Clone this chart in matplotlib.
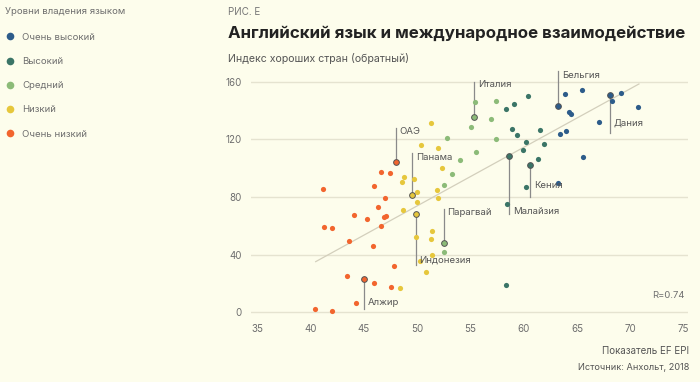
import matplotlib
matplotlib.use("Agg")
import matplotlib.pyplot as plt
from matplotlib.lines import Line2D

plt.rcParams['font.family'] = ['Inter', 'DejaVu Sans']

# ---- data: EF EPI score (x) vs Good Country Index, inverted (y) ----
levels = ["Очень высокий", "Высокий", "Средний", "Низкий", "Очень низкий"]
level_colors = ["#2d5c8a", "#3b7567", "#8cbb78", "#e6c73c", "#f2652e"]

vhigh_x = [63.2, 63.9, 65.5, 68.1, 68.3, 69.1, 70.7, 67.1, 64.2, 64.4, 63.4, 64.0, 65.6, 63.2]
vhigh_y = [143.2, 151.5, 154.1, 150.6, 146.7, 152.0, 142.3, 131.7, 138.9, 137.7, 123.6, 125.7, 107.9, 89.8]

high_x = [60.4, 59.1, 58.3, 58.9, 59.4, 61.5, 60.2, 61.9, 59.9, 58.6, 61.3, 60.6, 60.2, 58.4, 58.3]
high_y = [149.7, 144.2, 141.2, 127.1, 122.7, 126.2, 118.1, 116.5, 112.5, 108.4, 106.5, 101.9, 86.9, 75.1, 19.1]

mid_x = [55.3, 55.4, 57.4, 56.9, 55.1, 57.4, 52.8, 55.5, 54.0, 53.3, 52.5, 52.5, 52.5]
mid_y = [135.6, 145.8, 146.7, 134.2, 128.7, 119.9, 120.8, 110.9, 105.8, 95.7, 88.5, 47.8, 42.0]

low_x = [51.3, 50.4, 52.0, 52.3, 48.8, 48.6, 49.7, 50.0, 51.9, 52.0, 50.0, 48.7, 49.5, 49.9,
         49.9, 51.4, 51.3, 51.4, 50.3, 50.8, 48.4]
low_y = [131.0, 116.0, 113.7, 100.2, 94.0, 90.3, 92.4, 83.6, 84.6, 79.5, 76.5, 71.1, 81.5, 68.4,
         52.2, 56.4, 51.0, 39.7, 35.3, 28.1, 16.6]

vlow_x = [48.0, 46.6, 47.5, 46.0, 41.2, 47.0, 46.3, 44.1, 45.3, 46.9, 47.1, 46.6, 41.3, 42.0,
          43.6, 45.9, 47.8, 43.4, 45.0, 46.0, 47.6, 44.3, 40.4, 42.0]
vlow_y = [104.0, 97.3, 96.6, 87.8, 85.3, 79.0, 72.8, 67.2, 64.7, 66.1, 66.8, 60.0, 59.3, 58.7,
          49.2, 46.0, 32.3, 25.2, 23.3, 20.5, 17.8, 6.7, 2.1, 0.9]

groups_x = [vhigh_x, high_x, mid_x, low_x, vlow_x]
groups_y = [vhigh_y, high_y, mid_y, low_y, vlow_y]

# highlighted countries: (name, group index, point index)
highlights = [("ОАЭ", 4, 0), ("Панама", 3, 12), ("Италия", 2, 0), ("Бельгия", 0, 0),
              ("Дания", 0, 3), ("Кения", 1, 11), ("Малайзия", 1, 9), ("Парагвай", 2, 11),
              ("Индонезия", 3, 13), ("Алжир", 4, 18)]

# trend line endpoints
trend_x = [40.5, 70.8]
trend_y = [35.1, 158.3]

xticks = [35, 40, 45, 50, 55, 60, 65, 70, 75]
yticks = [0, 40, 80, 120, 160]

# ---- styling ----
bg = "#fdfdec"
grey = "#6e6e6e"

fig = plt.figure(figsize=(7, 3.82), dpi=100, facecolor=bg)
ax = fig.add_axes([0.3586, 0.1712, 0.6243, 0.6267], facecolor=bg)
ax.set_xlim(34.44, 75.4)
ax.set_ylim(-3, 163)

for yt in yticks:
    ax.axhline(yt, color="#e5e3d0", lw=1.0, zorder=0)

ax.plot(trend_x, trend_y, color="#d3cfbc", lw=0.9, zorder=1)

for gx, gy, col, lab in zip(groups_x, groups_y, level_colors, levels):
    ax.scatter(gx, gy, s=14, color=col, linewidths=0, zorder=3, label=lab)

# label lines: (end y of the line, label x offset, label y)
label_layout = {
    "ОАЭ": (127.6, 0.35, 125.2),
    "Панама": (110.2, 0.37, 107.0),
    "Италия": (159.9, 0.38, 157.6),
    "Бельгия": (167.5, 0.38, 164.5),
    "Дания": (124.5, 0.34, 131.0),
    "Кения": (80.1, 0.37, 87.6),
    "Малайзия": (68.1, 0.38, 69.7),
    "Парагвай": (71.4, 0.31, 69.0),
    "Индонезия": (32.8, 0.30, 36.3),
    "Алжир": (2.1, 0.40, 6.7),
}

for name, gi, pi in highlights:
    px = groups_x[gi][pi]
    py = groups_y[gi][pi]
    yend, dx, ly = label_layout[name]
    ax.plot([px, px], [py, yend], color="#8a8a8a", lw=0.9, zorder=2, clip_on=False)
    ax.scatter([px], [py], s=17, color=level_colors[gi], edgecolors="#555555",
               linewidths=0.7, zorder=4)
    ax.text(px + dx, ly, name, fontsize=6.9, color="#555555", va="center", ha="left",
            zorder=5)

ax.set_xticks(xticks)
ax.set_yticks(yticks)
ax.tick_params(length=0, labelsize=7, colors=grey)
ax.tick_params(axis="x", pad=5)
ax.tick_params(axis="y", pad=6.5)
for s in ax.spines.values():
    s.set_visible(False)

ax.text(0.993, 0.087, "R=0.74", transform=ax.transAxes, fontsize=6.8, color=grey,
        ha="right", va="center")

# ---- titles and notes ----
fig.text(228 / 700, 1 - 12 / 382, "РИС. Е", fontsize=7.1, color="#777777", va="center")
fig.text(228 / 700, 1 - 37.5 / 382, "Английский язык и международное взаимодействие",
         fontsize=12.2, fontweight="bold", color="#222222", va="baseline")
fig.text(228 / 700, 1 - 58 / 382, "Индекс хороших стран (обратный)", fontsize=7.6,
         color="#555555", va="center")
fig.text(689 / 700, 1 - 351 / 382, "Показатель EF EPI", fontsize=7.0, color="#555555",
         ha="right", va="center")
fig.text(689 / 700, 1 - 367.5 / 382, "Источник: Анхольт, 2018", fontsize=6.6,
         color="#555555", ha="right", va="center")

# ---- legend ----
fig.text(5 / 700, 1 - 12 / 382, "Уровни владения языком", fontsize=6.9, color=grey,
         va="center")
handles = [Line2D([], [], marker="o", ls="", markersize=5.5, markerfacecolor=c,
                  markeredgewidth=0) for c in level_colors]
leg = fig.legend(handles, levels, loc="upper left",
                 bbox_to_anchor=(6.6 / 700, 1 - 32.7 / 382),
                 bbox_transform=fig.transFigure, frameon=False, fontsize=6.9,
                 labelspacing=1.59, handlelength=0.7, handletextpad=0.9,
                 borderpad=0, borderaxespad=0)
for t in leg.get_texts():
    t.set_color(grey)

fig.savefig("out.png", dpi=100, facecolor=bg)
